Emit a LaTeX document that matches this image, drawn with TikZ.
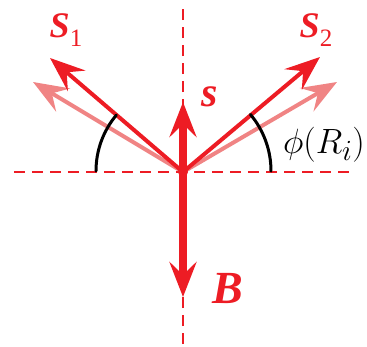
\documentclass[tikz,border=0pt]{standalone}
\usepackage{fontspec}
\setmainfont{Liberation Serif}
\usetikzlibrary{arrows.meta}
\definecolor{vecred}{RGB}{237,28,36}
\definecolor{vecpink}{RGB}{240,132,132}
\tikzset{
  axisline/.style={vecred,line width=2.5pt,dash pattern=on 11pt off 7pt},
  headtip/.style={-{Stealth[length=35pt,width=27pt,inset=13pt]}},
  spinvec/.style={vecred,line width=4pt,headtip},
  oldvec/.style={vecpink,line width=4pt,headtip},
  fieldvec/.style={vecred,line width=8pt,headtip},
  anglearc/.style={black,line width=3pt},
  veclabel/.style={vecred,inner sep=0pt,font=\bfseries\itshape}
}
\begin{document}
\begin{tikzpicture}[x=1pt,y=1pt,line join=round,line cap=round]
  \useasboundingbox (-183,-174) rectangle (184,172);
  \def\xmin{-169} \def\xmax{172} \def\ymin{-172} \def\ymax{167}
  % dashed axes
  \coordinate (O) at (0,0);
  \coordinate (L) at (\xmin,0); \coordinate (R) at (\xmax,0);
  \coordinate (T) at (0,\ymax); \coordinate (D) at (0,\ymin);
  \draw[axisline,line cap=butt] (L)--(R);
  \draw[axisline,line cap=butt] (D)--(T);
  % tips of the vectors
  \coordinate (s1) at (-133,114);
  \coordinate (s2) at (137,115);
  \coordinate (p1) at (-150,90);
  \coordinate (p2) at (154,90);
  \coordinate (s) at (0,70);
  \coordinate (b) at (0,-125);
  \draw[oldvec] (O)--(p1);
  \draw[oldvec] (O)--(p2);
  \draw[spinvec] (O)--(s1);
  \draw[spinvec] (O)--(s2);
  \draw[fieldvec,line cap=butt] (O)--(s);
  \draw[fieldvec,line cap=butt] (O)--(b);
  \fill[vecred] (O) circle (5pt);
  % angles
  \draw[anglearc] (-87,1) arc[start angle=180,end angle=140,radius=87];
  \draw[anglearc] (88,1) arc[start angle=0,end angle=40,radius=88];
  % labels
  \node[veclabel,font=\fontsize{36}{36}\selectfont\bfseries\itshape] (labS1) at (-117,142)
    {S\raisebox{-9pt}{\fontsize{25}{25}\selectfont\mdseries\upshape 1}};
  \node[veclabel,font=\fontsize{36}{36}\selectfont\bfseries\itshape] (labS2) at (133,142)
    {S\raisebox{-9pt}{\fontsize{25}{25}\selectfont\mdseries\upshape 2}};
  \node[veclabel,font=\fontsize{42}{42}\selectfont\bfseries\itshape] (labs) at (27,75) {s};
  \node[veclabel,font=\fontsize{46}{46}\selectfont\bfseries\itshape] (labB) at (45,-117) {B};
  \node[inner sep=0pt,font=\fontsize{24.88}{30}\selectfont] (labphi) at (141,27)
    {\scalebox{1.41}{$\phi(R_i)$}};
\end{tikzpicture}
\end{document}
